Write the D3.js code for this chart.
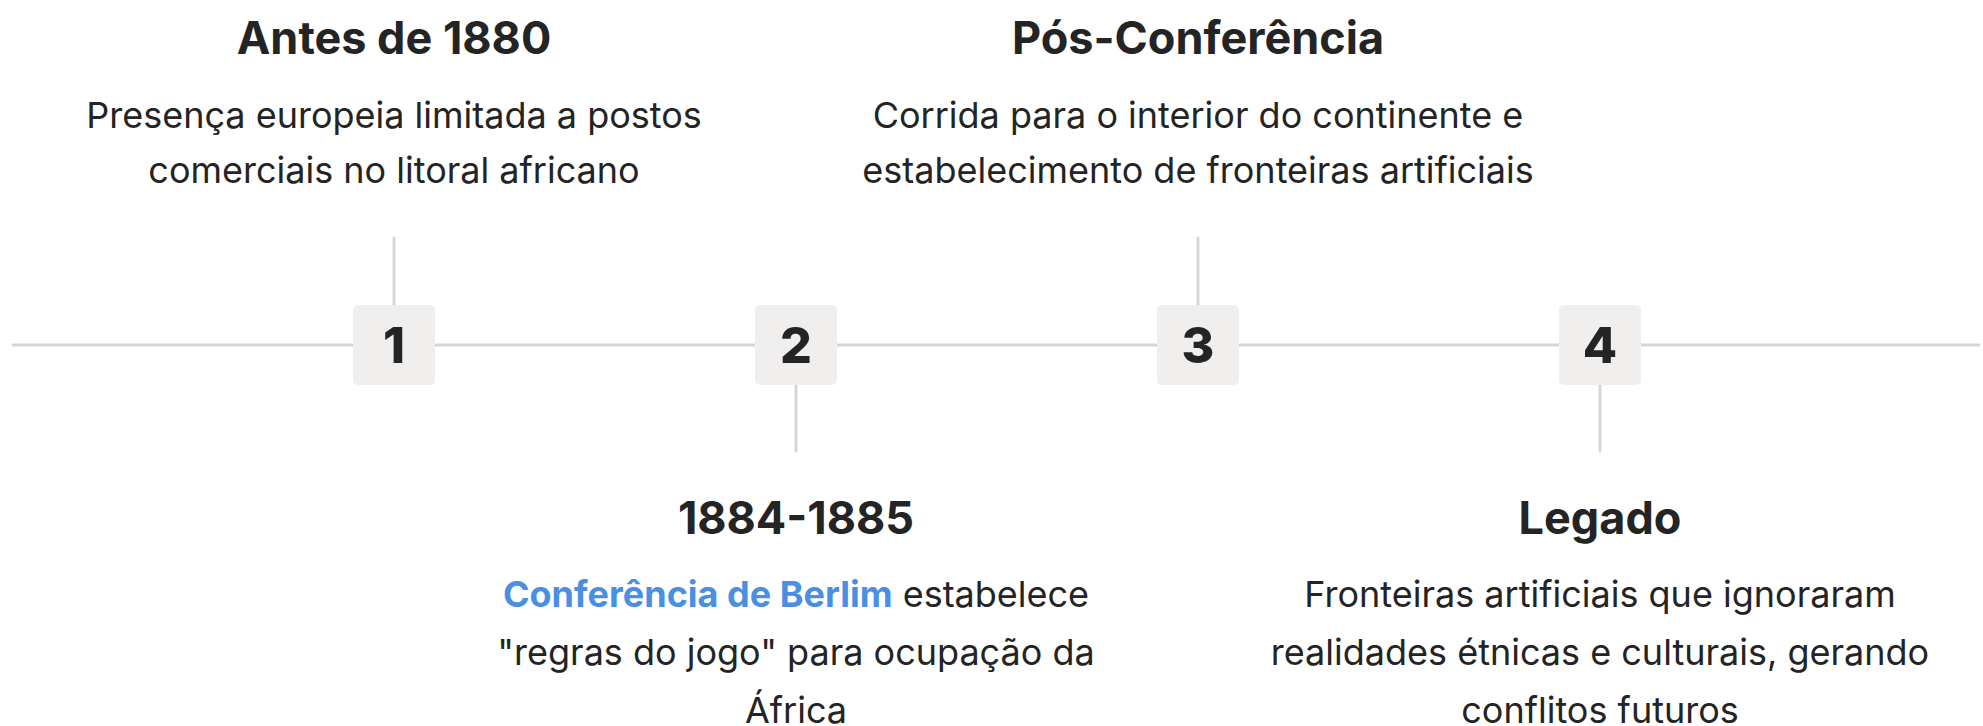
<!DOCTYPE html>
<html>
<head>
<meta charset="utf-8">
<script src="https://cdn.jsdelivr.net/npm/d3@7"></script>
<style>
  html, body { margin: 0; padding: 0; background: #fff; }
  svg { display: block; font-family: Inter, "Noto Sans", sans-serif; }
</style>
</head>
<body>
<svg id="chart"></svg>
<script>
// Timeline data
const steps = ["1", "2", "3", "4"];
const titles = ["Antes de 1880", "1884-1885", "Pós-Conferência", "Legado"];
const sides = ["top", "bottom", "top", "bottom"];
const descLines = [
  ["Presença europeia limitada a postos", "comerciais no litoral africano"],
  ["Conferência de Berlim estabelece", "\"regras do jogo\" para ocupação da", "África"],
  ["Corrida para o interior do continente e", "estabelecimento de fronteiras artificiais"],
  ["Fronteiras artificiais que ignoraram", "realidades étnicas e culturais, gerando", "conflitos futuros"]
];
const highlights = [null, "Conferência de Berlim", null, null];

const width = 1983, height = 726;
const lineY = 345;
const boxW = 82, boxH = 80;

const textColor = "#242424";
const lineColor = "#d9d5d5";
const boxColor = "#f1eeee";
const accent = "#4a90e2";

const svg = d3.select("#chart")
  .attr("width", width)
  .attr("height", height);

const x = d3.scalePoint()
  .domain(steps)
  .range([394, 1600]);

// main horizontal line
svg.append("line")
  .attr("x1", 13).attr("x2", 1979)
  .attr("y1", lineY).attr("y2", lineY)
  .attr("stroke", lineColor)
  .attr("stroke-width", 3)
  .attr("stroke-linecap", "round");

const items = steps.map((s, i) => ({
  step: s, title: titles[i], side: sides[i], lines: descLines[i], hl: highlights[i]
}));

const g = svg.selectAll("g.item")
  .data(items)
  .join("g")
  .attr("class", "item")
  .attr("transform", d => `translate(${x(d.step)},0)`);

// connectors
g.append("line")
  .attr("x1", 0).attr("x2", 0)
  .attr("y1", d => d.side === "top" ? 238 : lineY + boxH / 2)
  .attr("y2", d => d.side === "top" ? lineY - boxH / 2 : 451)
  .attr("stroke", lineColor)
  .attr("stroke-width", 3)
  .attr("stroke-linecap", "round");

// number boxes
g.append("rect")
  .attr("x", -boxW / 2)
  .attr("y", lineY - boxH / 2)
  .attr("width", boxW)
  .attr("height", boxH)
  .attr("rx", 5)
  .attr("fill", boxColor);

g.append("text")
  .attr("y", lineY)
  .attr("dy", "0.36em")
  .attr("text-anchor", "middle")
  .attr("font-size", 50)
  .attr("font-weight", 800)
  .attr("fill", textColor)
  .text(d => d.step);

// titles
g.append("text")
  .attr("y", d => d.side === "top" ? 54 : 534)
  .attr("text-anchor", "middle")
  .attr("font-size", 45)
  .attr("font-weight", 700)
  .attr("fill", textColor)
  .text(d => d.title);

// descriptions
g.each(function (d) {
  const y0 = d.side === "top" ? 128 : 607;
  const lineH = d.side === "top" ? 55 : 58;
  const t = d3.select(this).append("text")
    .attr("text-anchor", "middle")
    .attr("font-size", 36)
    .attr("fill", textColor);
  d.lines.forEach((ln, j) => {
    if (d.hl && ln.startsWith(d.hl)) {
      t.append("tspan")
        .attr("x", 0).attr("y", y0 + j * lineH)
        .attr("fill", accent)
        .attr("font-weight", 700)
        .text(d.hl);
      t.append("tspan").text(ln.slice(d.hl.length));
    } else {
      t.append("tspan")
        .attr("x", 0).attr("y", y0 + j * lineH)
        .text(ln);
    }
  });
});
</script>
</body>
</html>
